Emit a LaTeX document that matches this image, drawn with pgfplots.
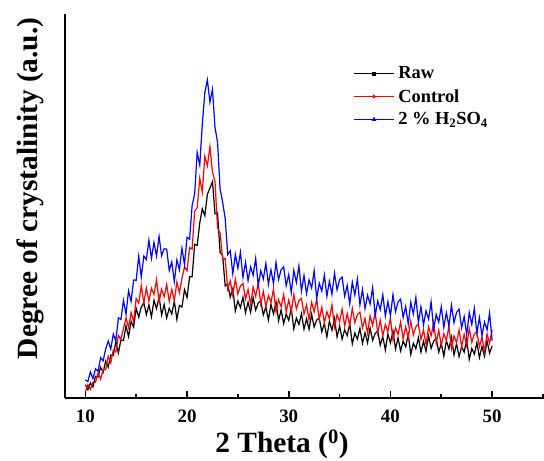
\documentclass[border=0pt]{standalone}
\usepackage{pgfplots}
\pgfplotsset{compat=1.18}
\usepackage{fontspec}
\setmainfont{Liberation Serif}
\begin{document}
\begin{tikzpicture}
\begin{axis}[
  scale only axis, width=479bp, height=384bp,
  xmin=8, xmax=55.1, ymin=0, ymax=12.07,
  axis x line*=bottom, axis y line*=left,
  axis line style={line width=2.4bp},
  xtick={10,20,30,40,50}, minor xtick={15,25,35,45,55},
  ytick=\empty, minor ytick={1,2,...,11},
  tick align=inside,
  major tick length=7bp, minor tick length=4bp,
  every tick/.style={black, line width=1.6bp},
  /pgf/number format/assume math mode=true,
  ticklabel style={font=\bfseries\fontsize{19}{21}\selectfont},
  xticklabel style={yshift=-8bp},
  xlabel={\textbf{2 Theta (\textsuperscript{0})}},
  ylabel={\textbf{Degree of crystalinity (a.u.)}},
  label style={font=\bfseries\fontsize{29.5}{31}\selectfont},
  xlabel style={at={(axis description cs:0.453,-0.143)}, anchor=base},
  ylabel style={at={(axis description cs:-0.073,0.546)}, anchor=center},
  legend style={draw=none, fill=none, at={(0.602,0.868)}, anchor=north west,
    font=\bfseries\fontsize{18.5}{20}\selectfont, row sep=5bp, inner sep=0bp,
    nodes={inner xsep=4bp}},
  legend cell align=left,
  legend image code/.code={\draw[#1] plot coordinates {(0bp,0bp)(20bp,0bp)(40bp,0bp)};},
  legend image post style={mark repeat=2, mark phase=2, line width=0.7bp},
]
\addplot[black, line width=1.2bp, mark=square*, mark size=1.6bp, mark phase=5000] coordinates {
(10,0.42)(10.25,0.26)(10.5,0.47)(10.75,0.35)(11,0.68)(11.25,0.66)(11.5,0.97)(11.75,0.81)(12,1.16)(12.25,0.97)(12.5,1.35)(12.75,1.34)(13,1.77)(13.25,1.42)(13.5,1.82)(13.75,1.81)(14,2.27)(14.25,1.93)(14.5,2.41)(14.75,2.23)(15,2.82)(15.25,2.54)(15.5,2.86)(15.75,3.00)(16,2.62)(16.25,2.93)(16.5,2.55)(16.75,3.07)(17,2.81)(17.25,3.19)(17.5,2.61)(17.75,2.94)(18,2.52)(18.25,2.82)(18.5,2.64)(18.75,3.05)(19,2.47)(19.25,2.91)(19.5,2.86)(19.75,3.40)(20,3.16)(20.25,3.81)(20.5,3.81)(20.75,4.83)(21,4.80)(21.25,5.50)(21.5,5.95)(21.75,5.73)(22,6.40)(22.25,6.60)(22.5,6.80)(22.75,5.79)(23,5.82)(23.25,4.57)(23.5,4.48)(23.75,3.52)(24,3.58)(24.25,3.17)(24.5,3.44)(24.75,2.74)(25,3.05)(25.25,2.84)(25.5,3.17)(25.75,2.68)(26,3.01)(26.25,2.69)(26.5,3.16)(26.75,2.76)(27,2.99)(27.25,3.05)(27.5,2.61)(27.75,2.87)(28,2.45)(28.25,2.94)(28.5,2.65)(28.75,3.02)(29,2.43)(29.25,2.77)(29.5,2.34)(29.75,2.64)(30,2.44)(30.25,2.82)(30.5,2.17)(30.75,2.51)(31,2.31)(31.25,2.65)(31.5,2.16)(31.75,2.49)(32,2.16)(32.25,2.63)(32.5,2.23)(32.75,2.45)(33,2.51)(33.25,2.08)(33.5,2.34)(33.75,1.92)(34,2.41)(34.25,2.13)(34.5,2.50)(34.75,1.92)(35,2.26)(35.25,1.85)(35.5,2.15)(35.75,1.96)(36,2.34)(36.25,1.70)(36.5,2.04)(36.75,1.85)(37,2.19)(37.25,1.72)(37.5,2.05)(37.75,1.73)(38,2.20)(38.25,1.81)(38.5,2.03)(38.75,2.10)(39,1.66)(39.25,1.93)(39.5,1.51)(39.75,2.01)(40,1.73)(40.25,2.11)(40.5,1.54)(40.75,1.89)(41,1.48)(41.25,1.79)(41.5,1.61)(41.75,2.00)(42,1.37)(42.25,1.72)(42.5,1.55)(42.75,1.90)(43,1.44)(43.25,1.78)(43.5,1.47)(43.75,1.95)(44,1.56)(44.25,1.79)(44.5,1.87)(44.75,1.44)(45,1.72)(45.25,1.31)(45.5,1.81)(45.75,1.54)(46,1.92)(46.25,1.35)(46.5,1.71)(46.75,1.30)(47,1.62)(47.25,1.44)(47.5,1.84)(47.75,1.21)(48,1.56)(48.25,1.38)(48.5,1.74)(48.75,1.27)(49,1.62)(49.25,1.31)(49.5,1.80)(49.75,1.41)(50,1.64)
};
\addlegendentry{Raw}
\addplot[red, line width=1.2bp, mark=*, mark size=1.6bp, mark phase=5000] coordinates {
(10,0.19)(10.25,0.42)(10.5,0.27)(10.75,0.50)(11,0.49)(11.25,0.79)(11.5,0.59)(11.75,0.89)(12,0.89)(12.25,1.31)(12.5,1.10)(12.75,1.51)(13,1.44)(13.25,1.97)(13.5,1.84)(13.75,2.19)(14,2.52)(14.25,2.22)(14.5,2.69)(14.75,2.40)(15,3.13)(15.25,2.98)(15.5,3.53)(15.75,2.98)(16,3.46)(16.25,3.05)(16.5,3.45)(16.75,3.26)(17,3.72)(17.25,3.02)(17.5,3.42)(17.75,3.19)(18,3.57)(18.25,3.03)(18.5,3.41)(18.75,3.06)(19,3.64)(19.25,3.31)(19.5,3.76)(19.75,4.12)(20,4.00)(20.25,4.73)(20.5,4.68)(20.75,5.87)(21,5.98)(21.25,6.91)(21.5,6.47)(21.75,7.60)(22,7.30)(22.25,7.90)(22.5,7.10)(22.75,6.80)(23,5.35)(23.25,5.19)(23.5,4.35)(23.75,4.39)(24,3.42)(24.25,3.68)(24.5,3.23)(24.75,3.74)(25,3.27)(25.25,3.52)(25.5,3.60)(25.75,3.11)(26,3.41)(26.25,2.94)(26.5,3.49)(26.75,3.19)(27,3.61)(27.25,2.96)(27.5,3.35)(27.75,2.87)(28,3.22)(28.25,3.00)(28.5,3.42)(28.75,2.71)(29,3.09)(29.25,2.87)(29.5,3.25)(29.75,2.71)(30,3.08)(30.25,2.71)(30.5,3.25)(30.75,2.80)(31,3.06)(31.25,3.13)(31.5,2.64)(31.75,2.93)(32,2.46)(32.25,3.01)(32.5,2.71)(32.75,3.11)(33,2.46)(33.25,2.85)(33.5,2.37)(33.75,2.71)(34,2.49)(34.25,2.93)(34.5,2.22)(34.75,2.62)(35,2.40)(35.25,2.80)(35.5,2.26)(35.75,2.65)(36,2.28)(36.25,2.82)(36.5,2.37)(36.75,2.62)(37,2.70)(37.25,2.21)(37.5,2.50)(37.75,2.03)(38,2.58)(38.25,2.28)(38.5,2.69)(38.75,2.04)(39,2.44)(39.25,1.96)(39.5,2.31)(39.75,2.09)(40,2.52)(40.25,1.82)(40.5,2.21)(40.75,2.00)(41,2.39)(41.25,1.86)(41.5,2.24)(41.75,1.88)(42,2.42)(42.25,1.98)(42.5,2.24)(42.75,2.32)(43,1.84)(43.25,2.14)(43.5,1.68)(43.75,2.24)(44,1.95)(44.25,2.37)(44.5,1.73)(44.75,2.13)(45,1.66)(45.25,2.02)(45.5,1.81)(45.75,2.25)(46,1.55)(46.25,1.95)(46.5,1.74)(46.75,2.14)(47,1.61)(47.25,2.00)(47.5,1.64)(47.75,2.19)(48,1.75)(48.25,2.01)(48.5,2.09)(48.75,1.61)(49,1.91)(49.25,1.45)(49.5,2.01)(49.75,1.72)(50,2.14)
};
\addlegendentry{Control}
\addplot[blue, line width=1.2bp, mark=triangle*, mark size=2bp, mark phase=5000] coordinates {
(10,0.57)(10.25,0.52)(10.5,0.82)(10.75,0.61)(11,0.92)(11.25,0.84)(11.5,1.27)(11.75,1.17)(12,1.54)(12.25,1.79)(12.5,1.54)(12.75,2.01)(13,1.80)(13.25,2.52)(13.5,2.47)(13.75,3.07)(14,2.64)(14.25,3.37)(14.5,3.04)(14.75,3.71)(15,3.70)(15.25,4.46)(15.5,3.80)(15.75,4.46)(16,4.35)(16.25,4.96)(16.5,4.39)(16.75,4.89)(17,4.46)(17.25,5.08)(17.5,4.47)(17.75,4.69)(18,4.68)(18.25,4.01)(18.5,4.28)(18.75,3.66)(19,4.34)(19.25,4.03)(19.5,4.71)(19.75,4.19)(20,5.05)(20.25,4.99)(20.5,6.05)(20.75,6.42)(21,7.72)(21.25,7.32)(21.5,8.60)(21.75,9.60)(22,10.00)(22.25,9.30)(22.5,9.70)(22.75,8.50)(23,8.04)(23.25,6.57)(23.5,6.16)(23.75,5.64)(24,4.51)(24.25,4.63)(24.5,3.90)(24.75,4.51)(25,4.08)(25.25,4.58)(25.5,3.79)(25.75,4.27)(26,3.69)(26.25,4.12)(26.5,3.86)(26.75,4.39)(27,3.53)(27.25,4.00)(27.5,3.74)(27.75,4.23)(28,3.57)(28.25,4.03)(28.5,3.60)(28.75,4.26)(29,3.72)(29.25,4.03)(29.5,4.12)(29.75,3.53)(30,3.88)(30.25,3.31)(30.5,4.01)(30.75,3.63)(31,4.15)(31.25,3.36)(31.5,3.85)(31.75,3.28)(32,3.71)(32.25,3.46)(32.5,4.00)(32.75,3.13)(33,3.61)(33.25,3.36)(33.5,3.86)(33.75,3.20)(34,3.67)(34.25,3.26)(34.5,3.93)(34.75,3.40)(35,3.72)(35.25,3.80)(35.5,3.20)(35.75,3.54)(36,2.96)(36.25,3.64)(36.5,3.24)(36.75,3.74)(37,2.93)(37.25,3.41)(37.5,2.81)(37.75,3.23)(38,2.95)(38.25,3.47)(38.5,2.59)(38.75,3.05)(39,2.78)(39.25,3.25)(39.5,2.58)(39.75,3.03)(40,2.59)(40.25,3.25)(40.5,2.71)(40.75,3.02)(41,3.11)(41.25,2.53)(41.5,2.88)(41.75,2.32)(42,3.01)(42.25,2.64)(42.5,3.16)(42.75,2.37)(43,2.87)(43.25,2.30)(43.5,2.74)(43.75,2.48)(44,3.02)(44.25,2.15)(44.5,2.63)(44.75,2.38)(45,2.87)(45.25,2.22)(45.5,2.68)(45.75,2.26)(46,2.92)(46.25,2.37)(46.5,2.69)(46.75,2.79)(47,2.20)(47.25,2.56)(47.5,1.99)(47.75,2.69)(48,2.31)(48.25,2.82)(48.5,2.04)(48.75,2.53)(49,1.96)(49.25,2.39)(49.5,2.14)(49.75,2.67)(50,1.80)
};
\addlegendentry{2 \% H\textsubscript{2}SO\textsubscript{4}}
\end{axis}
\pgfresetboundingbox
\path[use as bounding box] (-65bp,-63bp) rectangle (479bp,398bp);
\end{tikzpicture}
\end{document}
